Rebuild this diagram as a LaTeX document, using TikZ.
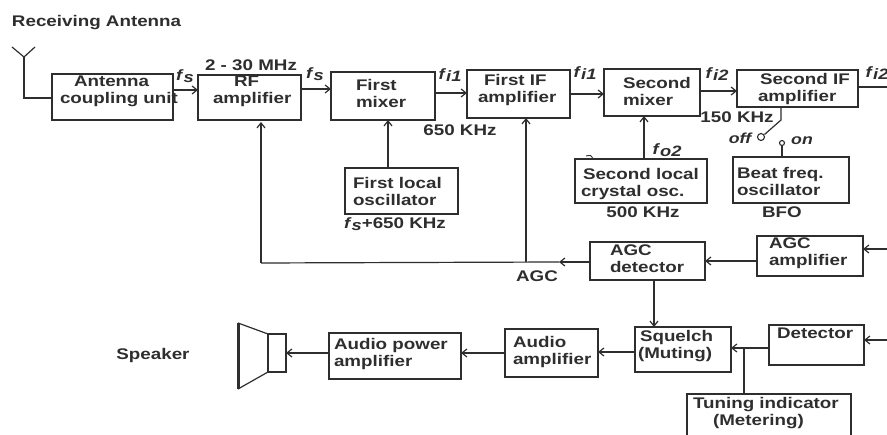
\documentclass[tikz,border=0pt]{standalone}
\usepackage{fontspec}
\setmainfont[FakeStretch=1.22]{Liberation Sans}
\usetikzlibrary{arrows.meta}
\definecolor{ink}{HTML}{2E2E2E}
\newcommand{\fsb}[1]{\textit{f}\raisebox{-2.5pt}{\textit{#1}}}
\newcommand{\bx}[5]{\node[box,minimum width={(#4-#2)*1pt},minimum height={(#5-#3)*1pt}] (#1) at ({(#2+#4)/2},{(#3+#5)/2}) {};}
\tikzset{
  box/.style={draw=ink,line width=1.2pt,rectangle,inner sep=0,outer sep=0,fill=none},
  txt/.style={anchor=west,align=left,inner sep=0,outer sep=0,yshift=-1.2pt,text=ink,font=\fontsize{15.4}{17}\selectfont\bfseries},
  lab/.style={inner sep=0,outer sep=0,text=ink,font=\fontsize{15.4}{17}\selectfont\bfseries},
  sym/.style={inner sep=0,outer sep=0,text=ink,font=\fontsize{15}{15}\selectfont\bfseries},
  wire/.style={draw=ink,line width=1.2pt},
  arr/.style={wire,-{Straight Barb[length=5pt,width=8pt]}},
}
\begin{document}
\begin{tikzpicture}[x=1pt,y=-1pt]
\clip (0,0) rectangle (887,435);
\fill[white] (0,0) rectangle (887,435);
% boxes
\bx{cu}{52}{74}{173}{120}
\bx{rf}{198}{75}{301}{120}
\bx{mxa}{331}{72}{435}{120}
\bx{loa}{345}{168}{458}{214}
\bx{ifa}{467}{70}{570}{118}
\bx{mxb}{604}{69}{700}{116}
\bx{ifb}{737}{70}{858}{107}
\bx{lob}{575}{159}{707}{203}
\bx{bfo}{733}{157}{849}{203}
\bx{det}{590}{242}{705}{280}
\bx{amp}{757}{236}{863}{276}
\bx{sq}{635}{327}{731}{372}
\bx{dt}{769}{325}{864}{365}
\bx{tun}{687}{394}{851}{450}
\bx{aud}{505}{329}{598}{377}
\bx{pow}{329}{333}{461}{379}
\bx{spk}{268}{334}{286}{372}
% box texts
\node[txt] (tcu) at (60,90.5) {\hspace*{14pt}Antenna\\coupling unit};
\node[txt] (trf) at (213,90) {\hspace*{21pt}RF\\amplifier};
\node[txt] (tmxa) at (356,92) {First\\mixer};
\node[txt] (tloa) at (353,190) {First local\\oscillator};
\node[txt] (tifa) at (478,89) {\hspace*{6pt}First IF\\amplifier};
\node[txt] (tmxb) at (623,90) {Second\\mixer};
\node[txt] (tifb) at (758,87.5) {\hspace*{2pt}Second IF\\amplifier};
\node[txt] (tlob) at (581,183) {\hspace*{2pt}Second local\\crystal osc.};
\node[txt] (tbfo) at (737,180.5) {Beat freq.\\oscillator};
\node[txt] (tdet) at (610,257.5) {AGC\\detector};
\node[txt] (tamp) at (769,252.5) {AGC\\amplifier};
\node[txt] (tsq) at (638,344.5) {\hspace*{2pt}Squelch\\(Muting)};
\node[txt] (tdt) at (777,332) {Detector};
\node[txt] (ttun) at (693,411.5) {Tuning indicator\\\hspace*{20pt}(Metering)};
\node[txt] (taud) at (513,350.5) {Audio\\amplifier};
\node[txt] (tpow) at (334,352.5) {Audio power\\amplifier};
% free labels
\node[lab,anchor=west] (ra) at (12,23) {Receiving Antenna};
\node[lab] (m1) at (251,65) {2 - 30 MHz};
\node[lab] (k1) at (460,130) {650 KHz};
\node[lab] (k2) at (737,117) {150 KHz};
\node[lab] (k3) at (643,212) {500 KHz};
\node[lab] (lbfo) at (782,212) {BFO};
\node[lab] (lagc) at (537,276) {AGC};
\node[lab] (lspk) at (153,356) {Speaker};
\node[lab,anchor=west] (k4) at (344,224) {\fontsize{15}{15}\selectfont\fsb{s}\fontsize{15.4}{15}\selectfont+650 KHz};
\node[sym] (s1) at (185,76) {\fsb{s}};
\node[sym] (s2) at (315,74) {\fsb{s}};
\node[sym] (s3) at (450,75) {\fsb{i1}};
\node[sym] (s4) at (585,73) {\fsb{i1}};
\node[sym] (s5) at (717,74) {\fsb{i2}};
\node[sym] (s6) at (877,73) {\fsb{i2}};
\node[sym] (s7) at (667,150) {\fsb{o2}};
\node[lab,font=\fontsize{14.5}{15}\selectfont\bfseries\itshape] (loff) at (740,138) {off};
\node[lab,font=\fontsize{14.5}{15}\selectfont\bfseries\itshape] (lon) at (802,141) {on};
% antenna
\coordinate (an0) at (24,57);
\coordinate (anl) at (12,47);
\coordinate (anr) at (35,47);
\coordinate (an1) at (24,98);
\draw[wire] (anl) -- (an0) -- (anr);
\draw[wire] (an0) -- (an1) -- (cu.west |- an1);
% signal chain
\draw[arr] (cu.east |- 0,90) -- (rf.west |- 0,90);
\draw[arr] (rf.east |- 0,89) -- (mxa.west |- 0,89);
\draw[arr] (mxa.east |- 0,93) -- (ifa.west |- 0,93);
\draw[arr] (ifa.east |- 0,94) -- (mxb.west |- 0,94);
\draw[arr] (mxb.east |- 0,91) -- (ifb.west |- 0,91);
\coordinate (oifb) at (887,87);
\draw[wire] (ifb.east |- oifb) -- (oifb);
\draw[arr] (loa.north -| 388,0) -- (mxa.south -| 388,0);
\draw[arr] (lob.north -| 644,0) -- (mxb.south -| 644,0);
% switch
\coordinate (sw0) at (781,120);
\coordinate (swa) at (764.5,134.5);
\draw[wire] (ifb.south -| sw0) -- (sw0) -- (swa);
\node[circle,draw=ink,line width=1.1pt,minimum size=7pt,inner sep=0] (coff) at (761,137) {};
\node[circle,draw=ink,line width=1.1pt,minimum size=5pt,inner sep=0] (con) at (782,143) {};
\draw[wire] (con) -- (bfo.north -| con);
% stray tick on the crystal oscillator box
\coordinate (tk0) at (586,156);
\coordinate (tk1) at (593,159);
\draw[draw=ink,line width=0.9pt] (tk0) .. controls (591,155) .. (tk1);
% AGC
\coordinate (agcmid) at (559,262);
\coordinate (agcj) at (526,262);
\coordinate (agcl) at (261,263);
\draw[arr] (det.west |- agcmid) -- (agcmid);
\draw[wire] (agcmid) -- (agcl);
\draw[arr] (agcl) -- (261,122);
\draw[arr] (agcj) -- (ifa.south -| agcj);
\coordinate (iamp) at (887,249);
\coordinate (idt) at (887,340);
\draw[arr] (iamp) -- (amp.east |- iamp);
\draw[arr] (idt) -- (dt.east |- idt);
\draw[arr] (amp.west |- 0,261) -- (det.east |- 0,261);
\draw[arr] (det.south -| 654,0) -- (sq.north -| 654,0);
\draw[arr] (dt.west |- 0,348) -- (sq.east |- 0,348);
\coordinate (tj) at (744,348);
\draw[wire] (tun.north -| tj) -- (tj);
\draw[arr] (sq.west |- 0,352) -- (aud.east |- 0,352);
\draw[arr] (aud.west |- 0,353) -- (pow.east |- 0,353);
\draw[arr] (pow.west |- 0,353) -- (spk.east |- 0,353);
% speaker cone
\coordinate (c1) at (238,323);
\coordinate (c2) at (238,389);
\draw[wire] (spk.north west) -- (c1);
\draw[wire] (spk.south west) -- (c2);
\draw[draw=ink,line width=3pt] (c1) -- (c2);
\end{tikzpicture}
\end{document}
